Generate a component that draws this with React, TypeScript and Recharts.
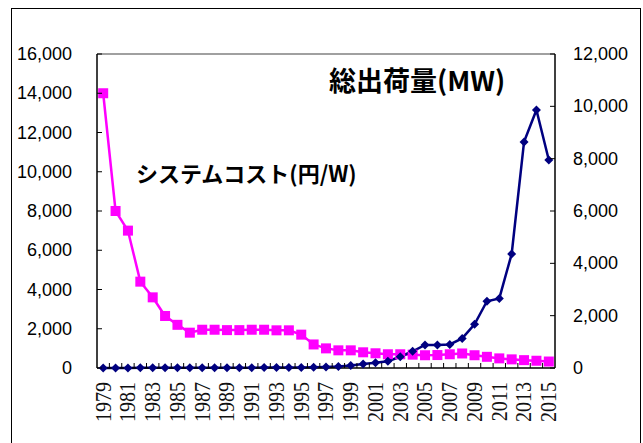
import React from 'react';
import { LineChart, Line, XAxis, YAxis, ReferenceLine } from 'recharts';

const years = [
  1979, 1980, 1981, 1982, 1983, 1984, 1985, 1986, 1987, 1988, 1989, 1990, 1991,
  1992, 1993, 1994, 1995, 1996, 1997, 1998, 1999, 2000, 2001, 2002, 2003, 2004,
  2005, 2006, 2007, 2008, 2009, 2010, 2011, 2012, 2013, 2014, 2015,
];

// システムコスト (円/W) — left axis
const systemCost = [
  14000, 8000, 7000, 4400, 3600, 2650, 2200, 1800, 1950, 1950, 1930, 1930, 1950,
  1950, 1920, 1920, 1700, 1200, 1000, 900, 900, 800, 750, 700, 700, 680,
  650, 660, 700, 740, 650, 570, 490, 440, 400, 370, 330,
];

// 総出荷量 (MW) — right axis
const shipments = [
  1, 2, 3, 5, 7, 8, 9, 10, 11, 12, 13, 13, 14,
  15, 15, 17, 19, 25, 40, 60, 100, 150, 200, 260, 430, 640,
  880, 880, 900, 1130, 1670, 2550, 2660, 4360, 8640, 9860, 7950,
];

const leftTicks = [0, 2000, 4000, 6000, 8000, 10000, 12000, 14000, 16000];
const rightTicks = [0, 2000, 4000, 6000, 8000, 10000, 12000];
const labelYears = years.filter((y) => (y - 1979) % 2 === 0);
const boundaryTicks = years.slice(1).map((y) => y - 0.5);
const xTicks = [...boundaryTicks, ...labelYears].sort((a, b) => a - b);

const data = years.map((year, i) => ({ year, cost: systemCost[i], mw: shipments[i] }));

const MAGENTA = '#FF00FF';
const NAVY = '#000080';

const fmt = (v: number) => v.toLocaleString('en-US');

const XTick = (props: any) => {
  const { x, y, payload } = props;
  const v = payload.value as number;
  if (!Number.isInteger(v)) {
    return <line x1={x} y1={y} x2={x} y2={y - 5} stroke="#000" strokeWidth={1} />;
  }
  if (labelYears.includes(v)) {
    const ty = y + 14;
    return (
      <text
        x={0}
        y={0}
        transform={`translate(${x} ${ty}) rotate(-90) scale(1 1.12)`}
        textAnchor="end"
        dominantBaseline="central"
        fontFamily="'Liberation Serif', 'Times New Roman', serif"
        fontSize="20px"
        fill="#111"
      >
        {v}
      </text>
    );
  }
  return <g />;
};

const LeftTick = (props: any) => {
  const { x, y, payload } = props;
  return (
    <g>
      <line x1={x} y1={y} x2={x + 5} y2={y} stroke="#000" strokeWidth={1} />
      <text
        x={x - 25}
        y={y}
        textAnchor="end"
        dominantBaseline="central"
        fontFamily="'Liberation Sans', Arial, sans-serif"
        fontSize="18px"
        fill="#000"
      >
        {fmt(payload.value)}
      </text>
    </g>
  );
};

const RightTick = (props: any) => {
  const { x, y, payload } = props;
  return (
    <g>
      <line x1={x} y1={y} x2={x - 5} y2={y} stroke="#000" strokeWidth={1} />
      <text
        x={x + 18}
        y={y}
        textAnchor="start"
        dominantBaseline="central"
        fontFamily="'Liberation Sans', Arial, sans-serif"
        fontSize="18px"
        fill="#000"
      >
        {fmt(payload.value)}
      </text>
    </g>
  );
};

const SquareDot = (props: any) => {
  const { cx, cy, index } = props;
  if (cx == null || cy == null) return <g key={`s-${index}`} />;
  return <rect key={`s-${index}`} x={cx - 5} y={cy - 5} width={10} height={10} fill={MAGENTA} />;
};

const DiamondDot = (props: any) => {
  const { cx, cy, index } = props;
  if (cx == null || cy == null) return <g key={`d-${index}`} />;
  return (
    <polygon
      key={`d-${index}`}
      points={`${cx},${cy - 4.5} ${cx + 4.5},${cy} ${cx},${cy + 4.5} ${cx - 4.5},${cy}`}
      fill={NAVY}
    />
  );
};

export default function App() {
  return (
    <div style={{ position: 'absolute', left: 0, top: 0, width: 643, height: 443, background: '#fff', overflow: 'hidden' }}>
      <div
        style={{
          position: 'absolute',
          left: 11,
          top: 8,
          width: 628,
          height: 460,
          borderLeft: '1px solid #000',
          borderTop: '1px solid #000',
          borderRight: '1px solid #000',
        }}
      />
      <div style={{ position: 'absolute', left: 0, top: 0 }}>
        <LineChart width={643} height={443} data={data} margin={{ top: 54, right: 28, bottom: 35, left: 37 }}>
          <XAxis
            dataKey="year"
            type="number"
            domain={[1978.5, 2015.5]}
            ticks={xTicks}
            interval={0}
            tickLine={false}
            tickSize={0}
            tickMargin={0}
            axisLine={{ stroke: '#000', strokeWidth: 1.5 }}
            tick={(p: any) => <XTick {...p} />}
            height={40}
            allowDataOverflow
          />
          <YAxis
            yAxisId="left"
            orientation="left"
            domain={[0, 16000]}
            ticks={leftTicks}
            interval={0}
            width={60}
            tickLine={false}
            tickSize={0}
            tickMargin={0}
            axisLine={{ stroke: '#000', strokeWidth: 1.5 }}
            tick={(p: any) => <LeftTick {...p} />}
          />
          <YAxis
            yAxisId="right"
            orientation="right"
            domain={[0, 12000]}
            ticks={rightTicks}
            interval={0}
            width={60}
            tickLine={false}
            tickSize={0}
            tickMargin={0}
            axisLine={{ stroke: '#000', strokeWidth: 1.5 }}
            tick={(p: any) => <RightTick {...p} />}
          />
          <ReferenceLine yAxisId="left" y={16000} stroke="#808080" strokeWidth={1.5} />
          <Line
            yAxisId="left"
            dataKey="cost"
            type="linear"
            stroke={MAGENTA}
            strokeWidth={2.5}
            dot={(p: any) => <SquareDot {...p} />}
            activeDot={false}
            isAnimationActive={false}
          />
          <Line
            yAxisId="right"
            dataKey="mw"
            type="linear"
            stroke={NAVY}
            strokeWidth={2.5}
            dot={(p: any) => <DiamondDot {...p} />}
            activeDot={false}
            isAnimationActive={false}
          />
        </LineChart>
      </div>
      <div
        style={{
          position: 'absolute',
          left: 329,
          top: 66,
          fontFamily: "'Noto Sans CJK JP', sans-serif",
          fontWeight: 700,
          fontSize: 27,
          lineHeight: '28px',
          color: '#000',
          whiteSpace: 'nowrap',
        }}
      >
        総出荷量(MW)
      </div>
      <div
        style={{
          position: 'absolute',
          left: 136,
          top: 161,
          fontFamily: "'Noto Sans CJK JP', sans-serif",
          fontWeight: 700,
          fontSize: 22,
          lineHeight: '23px',
          color: '#000',
          whiteSpace: 'nowrap',
        }}
      >
        システムコスト(円/W)
      </div>
    </div>
  );
}
